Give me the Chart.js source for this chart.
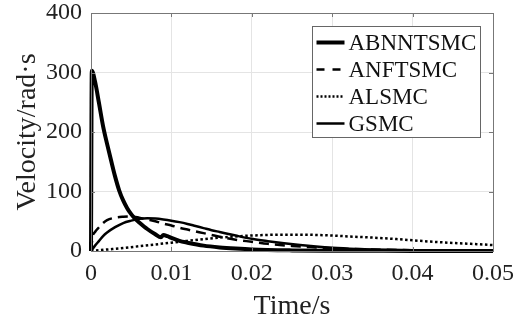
<!DOCTYPE html>
<html>
<head>
<meta charset="utf-8">
<script src="https://cdn.jsdelivr.net/npm/chart.js@4.4.1/dist/chart.umd.min.js"></script>
<style>
  html, body { margin: 0; padding: 0; background: #fff; }
  #wrap { width: 515px; height: 324px; }
</style>
</head>
<body>
<div id="wrap"><canvas id="chart" width="515" height="324"></canvas></div>
<script>
'use strict';

// ─── DATA ────────────────────────────────────────────────────────────────────

const xTicks = [0, 0.01, 0.02, 0.03, 0.04, 0.05];
const yTicks = [0, 100, 200, 300, 400];

const seriesNames = ['ABNNTSMC', 'ANFTSMC', 'ALSMC', 'GSMC'];

const abnTime = [0, 0.0001, 0.0005, 0.001, 0.0015, 0.002, 0.0025, 0.003, 0.0035, 0.004, 0.0045,
                 0.005, 0.0055, 0.006, 0.007, 0.008, 0.0087, 0.009, 0.0095, 0.01, 0.011, 0.012,
                 0.014, 0.016, 0.018, 0.02, 0.025, 0.03, 0.04, 0.05];
const abnVel  = [0, 303, 285, 248, 210, 180, 152, 125, 102, 85, 72,
                 62, 54, 48, 37, 28, 23, 27, 25, 22, 17, 14,
                 9, 6, 4, 2.5, 1, 0.5, 0.2, 0];

const anfTime = [0, 0.0002, 0.0005, 0.001, 0.0015, 0.002, 0.003, 0.004, 0.005, 0.006, 0.007,
                 0.008, 0.009, 0.01, 0.011, 0.012, 0.013, 0.014, 0.015, 0.016, 0.018, 0.02,
                 0.022, 0.025, 0.028, 0.03, 0.035, 0.04, 0.045, 0.05];
const anfVel  = [0, 24, 32, 40, 47, 52, 56, 57.5, 58, 56, 53,
                 50, 46, 43, 39, 36, 33, 30, 27, 24, 19, 15.5,
                 12, 8.5, 6, 4.5, 2.5, 1.3, 0.7, 0.4];

const alsTime = [0, 0.002, 0.004, 0.006, 0.008, 0.01, 0.012, 0.014, 0.016, 0.018, 0.02, 0.022,
                 0.024, 0.026, 0.028, 0.03, 0.032, 0.035, 0.038, 0.04, 0.042, 0.045, 0.048, 0.05];
const alsVel  = [0, 2.5, 5, 8, 11, 14, 17, 20, 22.5, 24.5, 26, 27,
                 27.5, 27.5, 27, 26, 24.5, 22.5, 20, 18, 16, 13.5, 11.5, 10];

const gsmTime = [0, 0.0005, 0.001, 0.0015, 0.002, 0.003, 0.004, 0.005, 0.006, 0.007, 0.008,
                 0.009, 0.01, 0.011, 0.012, 0.013, 0.014, 0.015, 0.016, 0.018, 0.02, 0.022,
                 0.024, 0.026, 0.028, 0.03, 0.033, 0.036, 0.04, 0.045, 0.05];
const gsmVel  = [0, 9, 17, 25, 31, 40, 47, 51, 54, 55, 54.5,
                 53, 51, 48.5, 45.5, 42, 38.5, 35, 32, 26, 20.5, 16.5,
                 13, 10, 7.5, 5.5, 3.5, 2.2, 1.2, 0.6, 0.3];

// ─── HELPERS ─────────────────────────────────────────────────────────────────

const FONT = '"Liberation Serif", "Times New Roman", serif';

function pts(xs, ys) {
  return xs.map((x, i) => ({ x, y: ys[i] }));
}

// caixa estilo MATLAB + ticks internos
const boxPlugin = {
  id: 'box',
  afterDatasetsDraw(chart) {
    const { ctx, chartArea: a, scales } = chart;
    ctx.save();
    ctx.strokeStyle = '#777';
    ctx.lineWidth = 1;
    ctx.beginPath();
    xTicks.forEach(v => {
      const px = Math.round(scales.x.getPixelForValue(v)) + 0.5;
      ctx.moveTo(px, a.top); ctx.lineTo(px, a.top + 4);
      ctx.moveTo(px, a.bottom); ctx.lineTo(px, a.bottom - 4);
    });
    yTicks.forEach(v => {
      const py = Math.round(scales.y.getPixelForValue(v)) + 0.5;
      ctx.moveTo(a.left, py); ctx.lineTo(a.left + 4, py);
      ctx.moveTo(a.right, py); ctx.lineTo(a.right - 4, py);
    });
    ctx.stroke();
    ctx.strokeRect(Math.round(a.left) + 0.5, Math.round(a.top) + 0.5,
                   Math.round(a.right - a.left), Math.round(a.bottom - a.top));
    ctx.restore();
  },
};

// legenda dentro da área do gráfico
const legendPlugin = {
  id: 'insideLegend',
  afterDraw(chart) {
    const { ctx, chartArea: a } = chart;
    const w = 168, rowH = 27;
    const h = rowH * chart.data.datasets.length + 3;
    const x0 = Math.round(a.right - 13 - w) + 0.5;
    const y0 = Math.round(a.top + 13) + 0.5;
    ctx.save();
    ctx.fillStyle = '#fff';
    ctx.fillRect(x0, y0, w, h);
    ctx.strokeStyle = '#666';
    ctx.lineWidth = 1;
    ctx.strokeRect(x0, y0, w, h);
    ctx.font = `23px ${FONT}`;
    ctx.textBaseline = 'middle';
    chart.data.datasets.forEach((ds, i) => {
      const cy = y0 + 16 + i * rowH;
      ctx.strokeStyle = '#000';
      ctx.lineWidth = ds.borderWidth;
      ctx.setLineDash(ds.legendDash || ds.borderDash || []);
      ctx.beginPath();
      ctx.moveTo(x0 + 4, cy);
      ctx.lineTo(x0 + 32, cy);
      ctx.stroke();
      ctx.setLineDash([]);
      ctx.fillStyle = '#111';
      ctx.fillText(ds.label, x0 + 36, cy + 1);
    });
    ctx.restore();
  },
};

// ─── CHART ───────────────────────────────────────────────────────────────────

new Chart(document.getElementById('chart'), {
  type: 'line',
  data: {
    datasets: [
      { label: seriesNames[0], data: pts(abnTime, abnVel), borderColor: '#000', borderWidth: 4, clip: 3 },
      { label: seriesNames[1], data: pts(anfTime, anfVel), borderColor: '#000', borderWidth: 2.5,
        borderDash: [10, 6], legendDash: [8, 8] },
      { label: seriesNames[2], data: pts(alsTime, alsVel), borderColor: '#000', borderWidth: 2.5,
        borderDash: [2.5, 2.5], legendDash: [2, 2] },
      { label: seriesNames[3], data: pts(gsmTime, gsmVel), borderColor: '#000', borderWidth: 2.5 },
    ],
  },
  options: {
    responsive: false,
    animation: false,
    devicePixelRatio: 1,
    layout: { padding: { top: 13, right: 22, left: 0, bottom: 0 } },
    elements: {
      point: { radius: 0 },
      line: { cubicInterpolationMode: 'monotone', fill: false },
    },
    plugins: {
      legend: { display: false },
      tooltip: { enabled: false },
    },
    scales: {
      x: {
        type: 'linear',
        min: 0, max: 0.05,
        afterBuildTicks: s => { s.ticks = xTicks.map(v => ({ value: v })); },
        afterFit: s => { s.height = 73; s.paddingLeft = 0; s.paddingRight = 0; },
        grid: { color: '#e4e4e4', drawTicks: false },
        border: { display: false },
        ticks: {
          color: '#222', padding: 8,
          font: { family: FONT, size: 24 },
          callback: v => String(v),
        },
        title: {
          display: true, text: 'Time/s', color: '#222',
          font: { family: FONT, size: 28 },
          padding: { top: 0, bottom: 1 },
        },
      },
      y: {
        min: 0, max: 400,
        afterBuildTicks: s => { s.ticks = yTicks.map(v => ({ value: v })); },
        afterFit: s => { s.width = 91; s.paddingTop = 0; s.paddingBottom = 0; },
        grid: { color: '#e4e4e4', drawTicks: false },
        border: { display: false },
        ticks: {
          color: '#222', padding: 9,
          font: { family: FONT, size: 24 },
        },
        title: {
          display: true, text: 'Velocity/rad·s', color: '#222',
          font: { family: FONT, size: 28 },
          padding: { top: 11, bottom: 0 },
        },
      },
    },
  },
  plugins: [boxPlugin, legendPlugin],
});
</script>
</body>
</html>
